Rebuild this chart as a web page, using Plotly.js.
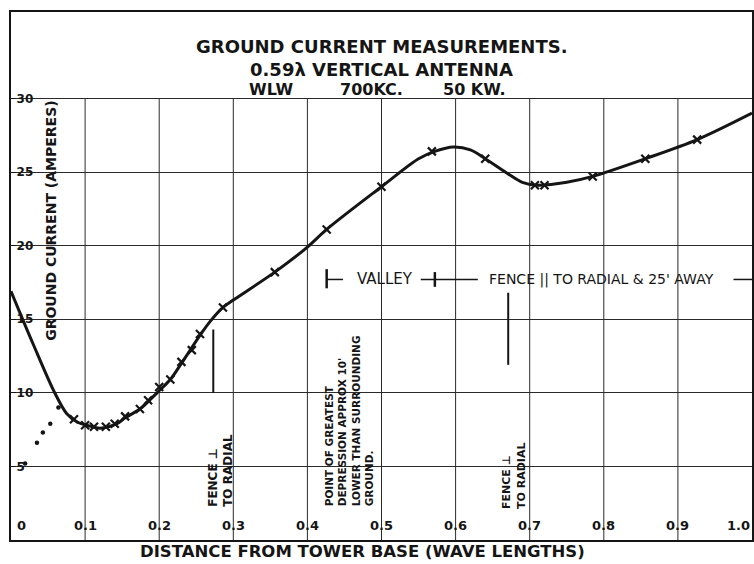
<!DOCTYPE html>
<html>
<head>
<meta charset="utf-8">
<script src="https://cdn.plot.ly/plotly-3.0.1.min.js"></script>
<style>html,body{margin:0;padding:0;background:#fff;}#chart{width:754px;height:564px;}</style>
</head>
<body>
<div id="chart"></div>
<script>
// ---- data ----
const curveX = [0.0, 0.03, 0.059, 0.075, 0.09, 0.102, 0.12, 0.143, 0.154, 0.174, 0.197, 0.215, 0.23, 0.255, 0.268, 0.286, 0.3, 0.356, 0.4, 0.426, 0.5, 0.55, 0.572, 0.597, 0.62, 0.64, 0.67, 0.69, 0.711, 0.75, 0.785, 0.856, 0.926, 1.0];
const curveY = [16.9, 13.3, 10.0, 8.6, 8.0, 7.8, 7.6, 7.9, 8.3, 8.9, 10.0, 10.9, 12.0, 13.9, 14.8, 15.8, 16.3, 18.2, 19.9, 21.1, 24.0, 25.9, 26.4, 26.7, 26.5, 25.9, 24.9, 24.3, 24.1, 24.3, 24.7, 25.9, 27.2, 29.0];
const markX = [0.085, 0.1, 0.112, 0.128, 0.14, 0.154, 0.174, 0.185, 0.2, 0.215, 0.23, 0.244, 0.255, 0.286, 0.356, 0.426, 0.5, 0.568, 0.64, 0.707, 0.72, 0.785, 0.856, 0.926];
const markY = [8.2, 7.8, 7.7, 7.7, 7.9, 8.4, 8.9, 9.5, 10.4, 10.9, 12.1, 12.9, 14.0, 15.8, 18.2, 21.1, 24.0, 26.4, 25.9, 24.1, 24.1, 24.7, 25.9, 27.2];
const dotX = [0.019, 0.035, 0.043, 0.053, 0.064];
const dotY = [5.2, 6.6, 7.3, 7.9, 9.0];
const xTickVals = [0, 0.1, 0.2, 0.3, 0.4, 0.5, 0.6, 0.7, 0.8, 0.9, 1.0];
const xTickText = ['0', '0.1', '0.2', '0.3', '0.4', '0.5', '0.6', '0.7', '0.8', '0.9', '1.0'];
const yTickVals = [5, 10, 15, 20, 25, 30];
const yTickText = ['5', '10', '15', '20', '25', '30'];
const gridX = [0.1, 0.2, 0.3, 0.4, 0.5, 0.6, 0.7, 0.8, 0.9];
const gridTop = 30;
const titleLines = ['GROUND CURRENT MEASUREMENTS.', '0.59λ VERTICAL ANTENNA'];
const subTitle = ['WLW', '700KC.', '50 KW.'];

const INK = '#151515';
const FONT = 'DejaVu Sans, sans-serif';

const traces = [
  {x: curveX, y: curveY, mode: 'lines', line: {color: INK, width: 3, shape: 'spline', smoothing: 0.9}, hoverinfo: 'skip', showlegend: false},
  {x: markX, y: markY, mode: 'markers', marker: {symbol: 'x-thin', size: 8, line: {color: INK, width: 2.2}}, showlegend: false},
  {x: dotX, y: dotY, mode: 'markers', marker: {symbol: 'circle', size: 4.5, color: INK}, showlegend: false}
];

const shapes = [];
gridX.forEach(v => shapes.push({type: 'line', xref: 'x', yref: 'y', x0: v, x1: v, y0: 0, y1: gridTop, line: {color: '#2a2a2a', width: 1}, layer: 'below'}));
function seg(x0, y0, x1, y1, w) { shapes.push({type: 'line', xref: 'x', yref: 'y', x0, y0, x1, y1, line: {color: INK, width: w || 1.5}}); }
// fence markers
seg(0.273, 10.0, 0.273, 14.3, 2);
seg(0.671, 11.9, 0.671, 16.8, 2);
// valley / fence bar
const barY = 17.7;
seg(0.426, 17.1, 0.426, 18.4, 2.5);
seg(0.426, barY, 0.448, barY, 1.5);
seg(0.553, barY, 0.63, barY, 1.5);
seg(0.572, 17.2, 0.572, 18.2, 2.5);
seg(0.975, barY, 1.0, barY, 1.5);

const ann = [];
function A(o) { ann.push(Object.assign({xref: 'x', yref: 'y', showarrow: false, borderpad: 0, font: {family: FONT, size: 12, color: INK}}, o)); }
A({x: 0.5, y: 33.5, text: titleLines[0], font: {family: FONT, size: 18, color: INK, weight: 'bold'}});
A({x: 0.5, y: 31.98, text: titleLines[1], font: {family: FONT, size: 18, color: INK, weight: 'bold'}});
const subX = [0.351, 0.487, 0.626];
subTitle.forEach((t, i) => A({x: subX[i], y: 30.6, text: t, font: {family: FONT, size: 16, color: INK, weight: 'bold'}}));
// axis titles
A({x: 0.053, y: 21.7, text: 'GROUND CURRENT (AMPERES)', textangle: -90, font: {family: FONT, size: 14, color: INK, weight: 'bold'}});
A({x: 0.474, y: -0.0225, yref: 'paper', yanchor: 'middle', text: 'DISTANCE FROM TOWER BASE (WAVE LENGTHS)', font: {family: FONT, size: 16.5, color: INK, weight: 'bold'}});
// x tick labels
xTickVals.forEach((v, i) => {
  const o = {x: v, y: 1.0, text: xTickText[i], font: {family: FONT, size: 13, color: INK, weight: 'bold'}};
  if (i === 0) { o.xanchor = 'left'; o.xshift = 5; }
  if (i === xTickVals.length - 1) { o.xanchor = 'right'; o.xshift = -1; }
  A(o);
});
// notes
A({x: 0.283, y: 2.2, yanchor: 'bottom', align: 'left', textangle: -90, text: 'FENCE ⊥<br>TO RADIAL', font: {family: FONT, size: 12, color: INK, weight: 'bold'}});
A({x: 0.456, y: 2.25, yanchor: 'bottom', align: 'left', textangle: -90, text: 'POINT OF GREATEST<br>DEPRESSION APPROX 10\'<br>LOWER THAN SURROUNDING<br>GROUND.', font: {family: FONT, size: 10.5, color: INK, weight: 'bold'}});
A({x: 0.679, y: 2.05, yanchor: 'bottom', align: 'left', textangle: -90, text: 'FENCE ⊥<br>TO RADIAL', font: {family: FONT, size: 11, color: INK, weight: 'bold'}});
A({x: 0.505, y: barY, text: 'VALLEY', font: {family: FONT, size: 15, color: INK}});
A({x: 0.797, y: barY, text: 'FENCE || TO RADIAL & 25\' AWAY', font: {family: FONT, size: 14, color: INK}});

const layout = {
  width: 754, height: 564,
  margin: {l: 11, r: 2, t: 12, b: 24, pad: 0},
  paper_bgcolor: '#fff', plot_bgcolor: '#fff',
  showlegend: false,
  xaxis: {range: [0, 1.0], showgrid: false, zeroline: false, showline: true, mirror: true, linecolor: INK, linewidth: 2, showticklabels: false, ticks: '', fixedrange: true},
  yaxis: {range: [0, 35.87], tickvals: yTickVals, ticktext: yTickText, showgrid: true, gridcolor: '#2a2a2a', gridwidth: 1, zeroline: false, showline: true, mirror: true, linecolor: INK, linewidth: 2, ticks: 'inside', ticklen: 5, tickcolor: INK, ticklabelposition: 'inside', tickfont: {family: FONT, size: 12, color: INK, weight: 'bold'}, fixedrange: true},
  shapes: shapes,
  annotations: ann
};
Plotly.newPlot('chart', traces, layout, {staticPlot: true, displayModeBar: false});
</script>
</body>
</html>
